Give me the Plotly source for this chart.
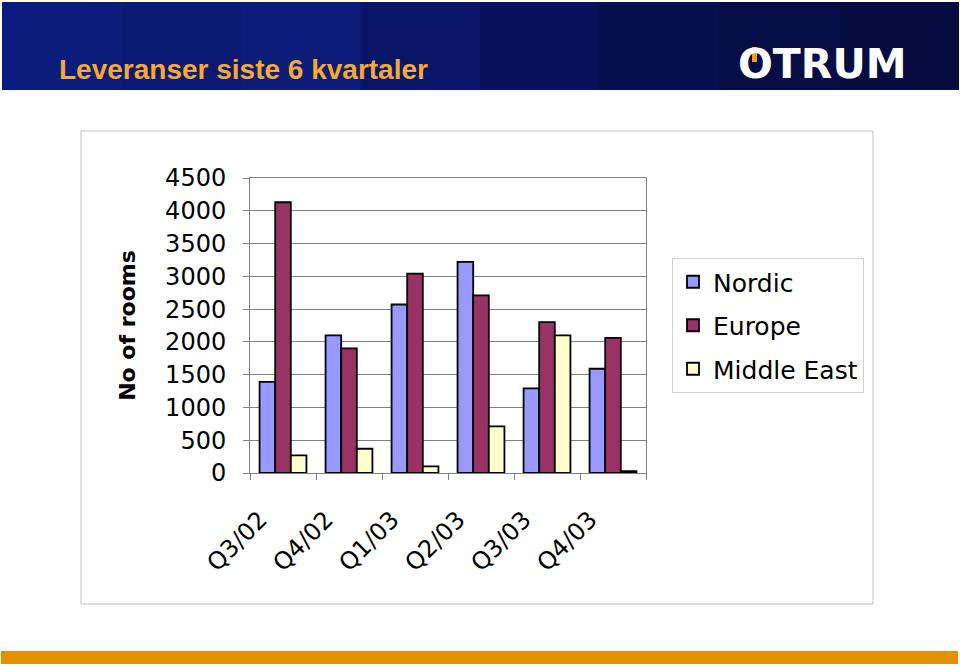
import plotly.graph_objects as go

quarters = ["Q3/02", "Q4/02", "Q1/03", "Q2/03", "Q3/03", "Q4/03"]
nordic = [1390, 2100, 2570, 3220, 1290, 1590]
europe = [4130, 1900, 3040, 2710, 2300, 2060]
middle_east = [270, 370, 100, 710, 2100, 30]
y_ticks = [0, 500, 1000, 1500, 2000, 2500, 3000, 3500, 4000, 4500]

W, H = 960, 667
def px(x): return x / W
def py(y): return 1 - y / H

fig = go.Figure()
series = [("Nordic", nordic, "#9999ff"), ("Europe", europe, "#993366"), ("Middle East", middle_east, "#ffffcc")]
for name, vals, col in series:
    fig.add_trace(go.Bar(x=quarters, y=vals, name=name, legendgroup=name,
                         marker=dict(color=col, line=dict(color="black", width=1.8))))

shapes = []
# header banner (simple horizontal gradient)
cols = ["#0c1c7c", "#0b1a74", "#0c1c78", "#0a1668", "#08115a", "#070e4c", "#060c44", "#060b40"]
n = len(cols)
for i, c in enumerate(cols):
    shapes.append(dict(type="rect", xref="paper", yref="paper", x0=px(2 + i * 956 / n), x1=px(2 + (i + 1) * 956 / n + 1),
                       y0=py(90), y1=py(2), fillcolor=c, line=dict(width=0), layer="below"))
# chart box
shapes.append(dict(type="rect", xref="paper", yref="paper", x0=px(81), x1=px(873), y0=py(604), y1=py(131),
                   fillcolor="white", line=dict(color="#bfbfbf", width=1), layer="below"))
# bottom stripe
shapes.append(dict(type="rect", xref="paper", yref="paper", x0=px(1), x1=px(958), y0=py(664), y1=py(651),
                   fillcolor="#e68f00", line=dict(width=0), layer="below"))
# logo accent
shapes.append(dict(type="rect", xref="paper", yref="paper", x0=px(752), x1=px(757), y0=py(62), y1=py(47),
                   fillcolor="#e8a020", line=dict(width=0)))

fig.update_layout(
    width=W, height=H, margin=dict(l=0, r=0, t=0, b=0, autoexpand=False),
    paper_bgcolor="white", plot_bgcolor="#c0c0c0",
    barmode="group", bargap=0.29, bargroupgap=0,
    font=dict(family="DejaVu Sans", color="black", size=23),
    shapes=shapes,
    xaxis=dict(domain=[px(250), px(646)], tickangle=-45, tickfont=dict(size=24), automargin=False,
               ticks="outside", ticklen=6, tickcolor="#808080", tickson="boundaries",
               showline=True, linecolor="#808080", linewidth=1, mirror=True,
               ticklabelstandoff=22, ticklabelshift=-23, showgrid=False),
    yaxis=dict(domain=[py(473), py(178)], range=[0, 4500], tickvals=y_ticks, tickfont=dict(size=24),
               automargin=False, ticklabelstandoff=12,
               ticks="outside", ticklen=6, tickcolor="#808080", showline=True, linecolor="#808080",
               linewidth=1, mirror=True, gridcolor="#808080", gridwidth=1, zeroline=False,
               title=dict(text="<b>No of rooms</b>", font=dict(size=22), standoff=23)),
    legend=dict(x=px(672), y=py(258), xanchor="left", yanchor="top", bgcolor="white",
                bordercolor="#d0d0d0", borderwidth=1, font=dict(size=25), tracegroupgap=8,
                traceorder="grouped", itemwidth=30),
    annotations=[
        dict(text="<b>Leveranser siste 6 kvartaler</b>", xref="paper", yref="paper", x=px(57), y=py(70),
             xanchor="left", yanchor="middle", showarrow=False,
             font=dict(size=28, color="#f6a933", family="Liberation Sans, Arial")),
        dict(text="<b>OTRUM</b>", xref="paper", yref="paper", x=px(908), y=py(64),
             xanchor="right", yanchor="middle", showarrow=False,
             font=dict(size=41, color="white", family="DejaVu Sans")),
    ],
)
fig.write_html("out.html")
